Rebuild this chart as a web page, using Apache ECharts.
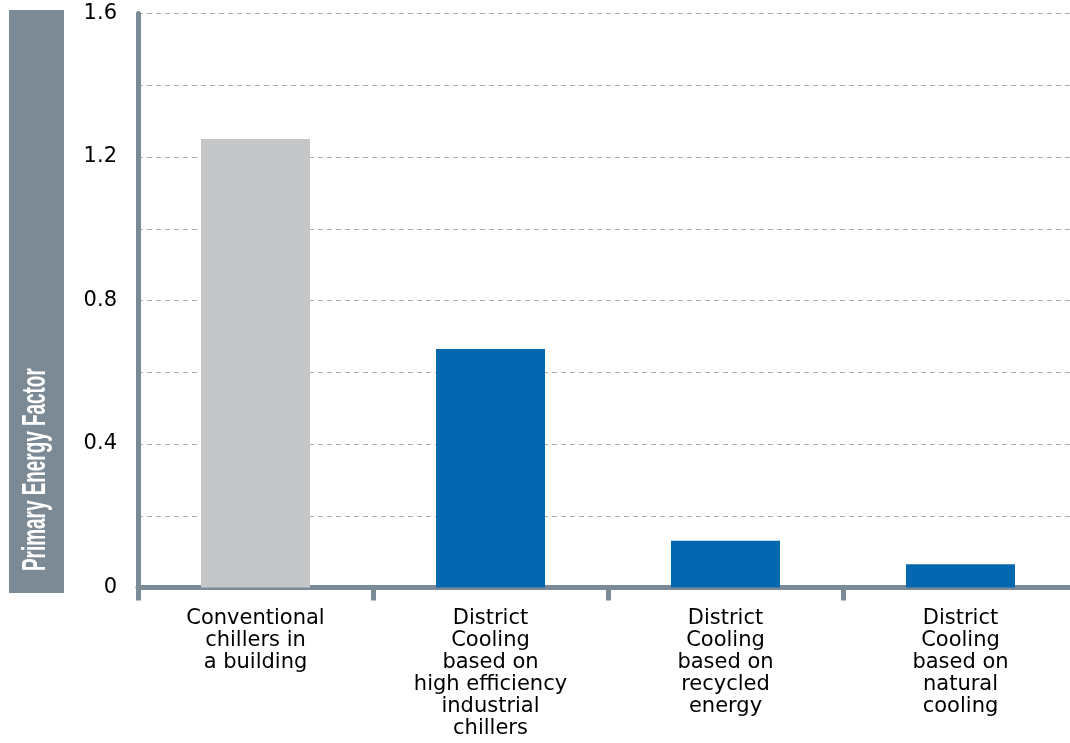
<!DOCTYPE html>
<html>
<head>
<meta charset="utf-8">
<script src="https://cdn.jsdelivr.net/npm/echarts@6/dist/echarts.min.js"></script>
<style>
html,body{margin:0;padding:0;background:#fff;}
#chart{width:1070px;height:743px;}
</style>
</head>
<body>
<div id="chart"></div>
<script>
var categories = [
  'Conventional\nchillers in\na building',
  'District\nCooling\nbased on\nhigh efficiency\nindustrial\nchillers',
  'District\nCooling\nbased on\nrecycled\nenergy',
  'District\nCooling\nbased on\nnatural\ncooling'
];
var values = [1.25, 0.665, 0.13, 0.065];
var yTickLabels = ['0', '0.4', '0.8', '1.2', '1.6'];
var yAxisTitle = 'Primary Energy Factor';

var barColors = ['#c5c6c8', '#0468b1', '#0468b1', '#0468b1'];
var axisColor = '#7b8b95';

var chart = echarts.init(document.getElementById('chart'), null, {renderer: 'canvas'});
chart.setOption({
  animation: false,
  backgroundColor: '#ffffff',
  grid: {left: 138, top: 13.5, width: 940, height: 574, containLabel: false, outerBoundsMode: 'none'},
  xAxis: {
    type: 'category',
    data: categories,
    boundaryGap: true,
    axisLine: {show: true, lineStyle: {color: axisColor, width: 5}},
    axisTick: {show: true, interval: 0, length: 13, lineStyle: {color: axisColor, width: 5}},
    axisLabel: {
      interval: 0, margin: 20, color: '#000000',
      fontFamily: 'DejaVu Sans', fontSize: 21, lineHeight: 22, align: 'center'
    }
  },
  yAxis: {
    type: 'value',
    min: 0, max: 1.6, interval: 0.2,
    axisLine: {show: true, lineStyle: {color: axisColor, width: 5}},
    axisTick: {show: false},
    splitLine: {show: true, lineStyle: {color: '#a3afb6', width: 1.2, type: [5, 4]}},
    axisLabel: {
      margin: 21, color: '#000000', fontFamily: 'DejaVu Sans', fontSize: 21,
      formatter: function (v) {
        var k = Math.round(v * 10);
        if (k % 4 !== 0) return '';
        return yTickLabels[k / 4] || '';
      }
    }
  },
  series: [{
    type: 'bar',
    barWidth: 109,
    data: values.map(function (v, i) {
      return {value: v, itemStyle: {color: barColors[i]}};
    })
  }],
  graphic: [
    {type: 'rect', left: 9, top: 10, shape: {width: 55, height: 583}, style: {fill: '#7b8a94'}, z: 10},
    {type: 'text', x: 36, y: 571, rotation: Math.PI / 2, scaleX: 0.556, scaleY: 1, z: 11,
     style: {text: yAxisTitle, fill: '#ffffff', font: 'bold 34px "Liberation Sans"', align: 'left', verticalAlign: 'middle'}}
  ]
});
</script>
</body>
</html>
